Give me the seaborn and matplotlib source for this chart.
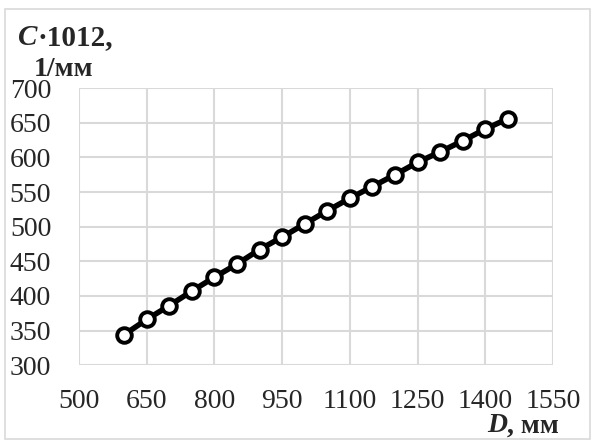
import pandas as pd
import matplotlib.pyplot as plt
import seaborn as sns
from matplotlib.patches import Rectangle

# Data
D = [600, 650, 700, 750, 800, 850, 900, 950, 1000, 1050,
     1100, 1150, 1200, 1250, 1300, 1350, 1400, 1450]
C = [344, 366, 386, 407, 427, 446, 467, 485, 504, 523,
     541, 558, 575, 593, 608, 624, 641, 656]
x_ticks = [500, 650, 800, 950, 1100, 1250, 1400, 1550]
y_ticks = [300, 350, 400, 450, 500, 550, 600, 650, 700]

df = pd.DataFrame({'D': D, 'C': C})

sns.set_style('white')
plt.rcParams['font.family'] = ['Liberation Serif', 'DejaVu Serif']

fig = plt.figure(figsize=(5.94, 4.41), dpi=100)
ax = fig.add_axes([0.133, 0.172, 0.798, 0.628])

sns.lineplot(data=df, x='D', y='C', ax=ax, color='black', linewidth=4,
             marker='o', markersize=10.5, markerfacecolor='white',
             markeredgecolor='black', markeredgewidth=2.8, zorder=3)

ax.set_xlim(500, 1550)
ax.set_ylim(300, 700)
ax.set_xticks(x_ticks)
ax.set_yticks(y_ticks)
ax.tick_params(labelsize=20, length=0)
ax.tick_params(axis='y', pad=20)
ax.tick_params(axis='x', pad=17)
ax.grid(True, color='#d9d9d9', linewidth=1.5)
for s in ax.spines.values():
    s.set_visible(False)
ax.set_xlabel('')
ax.set_ylabel('')

# Axis titles: italic bold symbol followed by bold text
t1 = fig.text(0.030, 0.898, 'C', fontsize=21, fontweight='bold',
              fontstyle='italic', ha='left', va='baseline')
ax.annotate('·1012,', xy=(1, 0), xycoords=t1, fontsize=21,
            fontweight='bold', ha='left', va='bottom')
fig.text(0.056, 0.828, '1/мм', fontsize=20, fontweight='bold',
         ha='left', va='baseline')
t2 = fig.text(0.820, 0.020, 'D', fontsize=20, fontweight='bold',
              fontstyle='italic', ha='left', va='baseline')
ax.annotate(', мм', xy=(1, 0), xycoords=t2, fontsize=20,
            fontweight='bold', ha='left', va='bottom')

# Outer chart border
fig.patches.append(Rectangle((0.008, 0.004), 0.985, 0.975,
                             transform=fig.transFigure, fill=False,
                             edgecolor='#d9d9d9', linewidth=1.2))

plt.savefig('out.png', dpi=100)
